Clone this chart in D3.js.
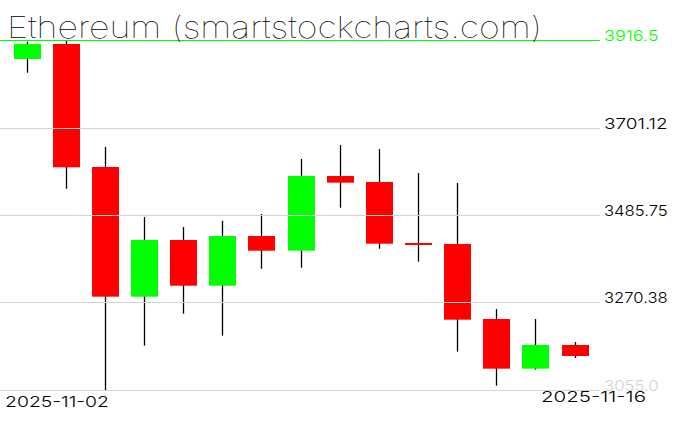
<!DOCTYPE html>
<html><head><meta charset="utf-8">
<script src="https://cdn.jsdelivr.net/npm/d3@7"></script>
<style>html,body{margin:0;padding:0;background:#fff;}svg{display:block;}</style>
</head><body>
<script>
const dates = ["2025-11-02","2025-11-03","2025-11-04","2025-11-05","2025-11-06","2025-11-07","2025-11-08","2025-11-09","2025-11-10","2025-11-11","2025-11-12","2025-11-13","2025-11-14","2025-11-15","2025-11-16"];
const opens  = [3869.7,3906.7,3603.9,3284.7,3424.2,3311.7,3434.1,3397.9,3581.7,3567.0,3416.8,3414.4,3229.8,3107.5,3165.8];
const highs  = [3912.3,3916.5,3653.1,3480.8,3456.2,3471.7,3488.2,3623.6,3658.1,3648.2,3589.1,3564.5,3254.4,3229.8,3173.2];
const lows   = [3836.0,3550.5,3055.0,3164.1,3242.8,3188.7,3353.6,3356.0,3503.7,3402.8,3370.8,3149.3,3065.6,3105.0,3133.8];
const closes = [3906.7,3603.2,3284.7,3424.2,3311.7,3434.1,3397.9,3581.7,3565.3,3415.1,3411.9,3228.1,3107.5,3165.8,3138.7];
const tickValues = [3055.0,3270.38,3485.75,3701.12,3916.5];
const tickLabels = ["3055.0","3270.38","3485.75","3701.12","3916.5"];
const title = "Ethereum (smartstockcharts.com)";

const W = 676, H = 431;
const svg = d3.select("body").append("svg").attr("width", W).attr("height", H);

const x = d3.scalePoint().domain(dates).range([26.5, 574.5]);
const y = d3.scaleLinear().domain([3055.0, 3916.5]).range([390, 40]);
const bodyW = 27;
const data = dates.map((d,i)=>({d, o:opens[i], h:highs[i], l:lows[i], c:closes[i]}));

// wicks
svg.append("g").selectAll("line").data(data).join("line")
  .attr("x1", d=>Math.round(x(d.d))+0.5).attr("x2", d=>Math.round(x(d.d))+0.5)
  .attr("y1", d=>y(d.h)).attr("y2", d=>y(d.l))
  .attr("stroke", "#000").attr("stroke-width", 1.3);

// bodies
svg.append("g").selectAll("rect").data(data).join("rect")
  .attr("x", d=>Math.round(x(d.d)) - 13)
  .attr("width", bodyW)
  .attr("y", d=>y(Math.max(d.o,d.c)))
  .attr("height", d=>Math.max(2, Math.abs(y(d.o)-y(d.c))))
  .attr("fill", d=> d.c >= d.o ? "#00ff00" : "#ff0000");

// gridlines + labels
const axisG = svg.append("g");
tickValues.forEach((v,i)=>{
  const top = i === tickValues.length-1;
  const bottom = i === 0;
  axisG.append("line").attr("x1",0).attr("x2",600)
    .attr("y1", Math.round(y(v))+0.5).attr("y2", Math.round(y(v))+0.5)
    .attr("stroke", top ? "#00ff00" : "#d3d3d3").attr("stroke-width",1);
  axisG.append("text").attr("x", 604).attr("y", y(v)+1)
    .attr("font-family","Inter, DejaVu Sans").attr("font-weight",300).attr("font-size",15)
    .attr("fill", top ? "#00ff00" : (bottom ? "#d3d3d3" : "#000"))
    .attr("textLength", tickLabels[i].length*9.1).attr("lengthAdjust","spacingAndGlyphs")
    .text(tickLabels[i]);
});

// date labels
svg.append("text").attr("x", x(dates[0]) - 21.5).attr("y", 406.5)
  .attr("font-family","Inter, DejaVu Sans").attr("font-weight",300).attr("font-size",15).attr("fill","#000")
  .attr("textLength",104).attr("lengthAdjust","spacingAndGlyphs")
  .text(dates[0]);
svg.append("text").attr("x", x(dates[dates.length-1]) - 33.5).attr("y", 401.5)
  .attr("font-family","Inter, DejaVu Sans").attr("font-weight",300).attr("font-size",15).attr("fill","#000")
  .attr("textLength",105).attr("lengthAdjust","spacingAndGlyphs")
  .text(dates[dates.length-1]);

// title
svg.append("text").attr("x", 7).attr("y", 38)
  .attr("font-family","Inter, DejaVu Sans").attr("font-weight",100).attr("font-size",30)
  .attr("fill","#000").attr("textLength",535).attr("lengthAdjust","spacingAndGlyphs")
  .text(title);
</script>
</body></html>
